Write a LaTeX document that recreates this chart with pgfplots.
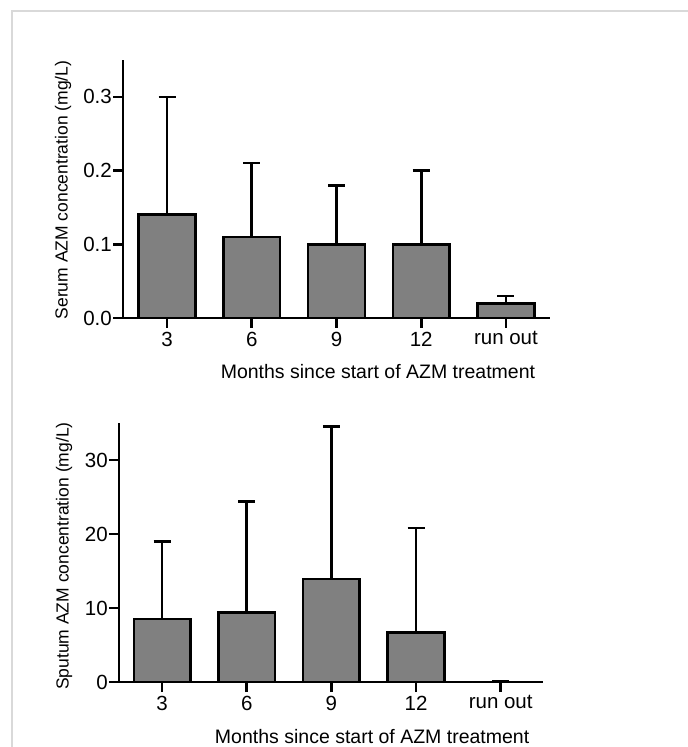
\documentclass[border=0pt]{standalone}
\usepackage{fontspec}
\setmainfont{Liberation Sans}
\usepackage{pgfplots}
\pgfplotsset{compat=1.18}
\pgfplotsset{
  mystyle/.style={
    scale only axis, ybar, bar width=0.67, ymin=0, xmin=-0.52, xmax=4.52,
    axis x line=bottom, axis y line=left,
    axis line style={-, line width=2.6pt, black},
    tick align=outside, major tick length=10pt,
    tick style={line width=2.6pt, black},
    xtick={0,1,2,3,4}, xticklabels={3,6,9,12,run out},
    ticklabel style={font=\fontsize{20.5}{20.5}\selectfont},
    xticklabel style={inner sep=3.5pt},
    yticklabel style={inner sep=1pt},
    /pgf/number format/assume math mode=true,
    scaled y ticks=false,
    clip=false,
  },
  mybar/.style={fill=black!50, draw=black, line width=2.6pt,
    error bars/.cd, y dir=plus, y explicit,
    error bar style={line width=2.6pt, black},
    error mark options={rotate=90, mark size=8.5pt, line width=2.6pt, black}},
}
\begin{document}
\begin{tikzpicture}[x=1pt,y=1pt]
\path[use as bounding box] (0,0) rectangle (688,747);
\draw[black!15, line width=1.2pt] (12,0) -- (12,736) -- (688,736);
\begin{axis}[mystyle, at={(123pt,429pt)}, anchor=south west,
  width=427pt, height=258pt, ymax=0.35,
  ytick={0,0.1,0.2,0.3},
  yticklabel style={/pgf/number format/.cd, fixed, fixed zerofill, precision=1},
  xlabel={Months since start of AZM treatment},
  xlabel style={at={(axis description cs:0.597,0)}, anchor=center, yshift=-54pt, font=\fontsize{19.5}{19.5}\selectfont},
  ylabel={Serum AZM concentration (mg/L)},
  ylabel style={at={(axis description cs:0,0.496)}, anchor=center, yshift=60pt, font=\fontsize{17.5}{17.5}\selectfont},
]
\addplot[mybar] table[x=x, y=y, y error=e] {
x y e
0 0.14 0.16
1 0.11 0.10
2 0.10 0.08
3 0.10 0.10
4 0.02 0.01
};
\end{axis}
\begin{axis}[mystyle, at={(119pt,65pt)}, anchor=south west,
  width=424pt, height=259pt, ymax=35, xmin=-0.51, xmax=4.5,
  ytick={0,10,20,30},
  xlabel={Months since start of AZM treatment},
  xlabel style={at={(axis description cs:0.597,0)}, anchor=center, yshift=-55pt, font=\fontsize{19.5}{19.5}\selectfont},
  ylabel={Sputum AZM concentration (mg/L)},
  ylabel style={at={(axis description cs:0,0.486)}, anchor=center, yshift=55pt, font=\fontsize{17.5}{17.5}\selectfont},
]
\addplot[mybar] table[x=x, y=y, y error=e] {
x y e
0 8.5 10.5
1 9.4 15.0
2 13.9 20.6
3 6.7 14.1
4 0.0 0.15
};
\end{axis}
\end{tikzpicture}
\end{document}
